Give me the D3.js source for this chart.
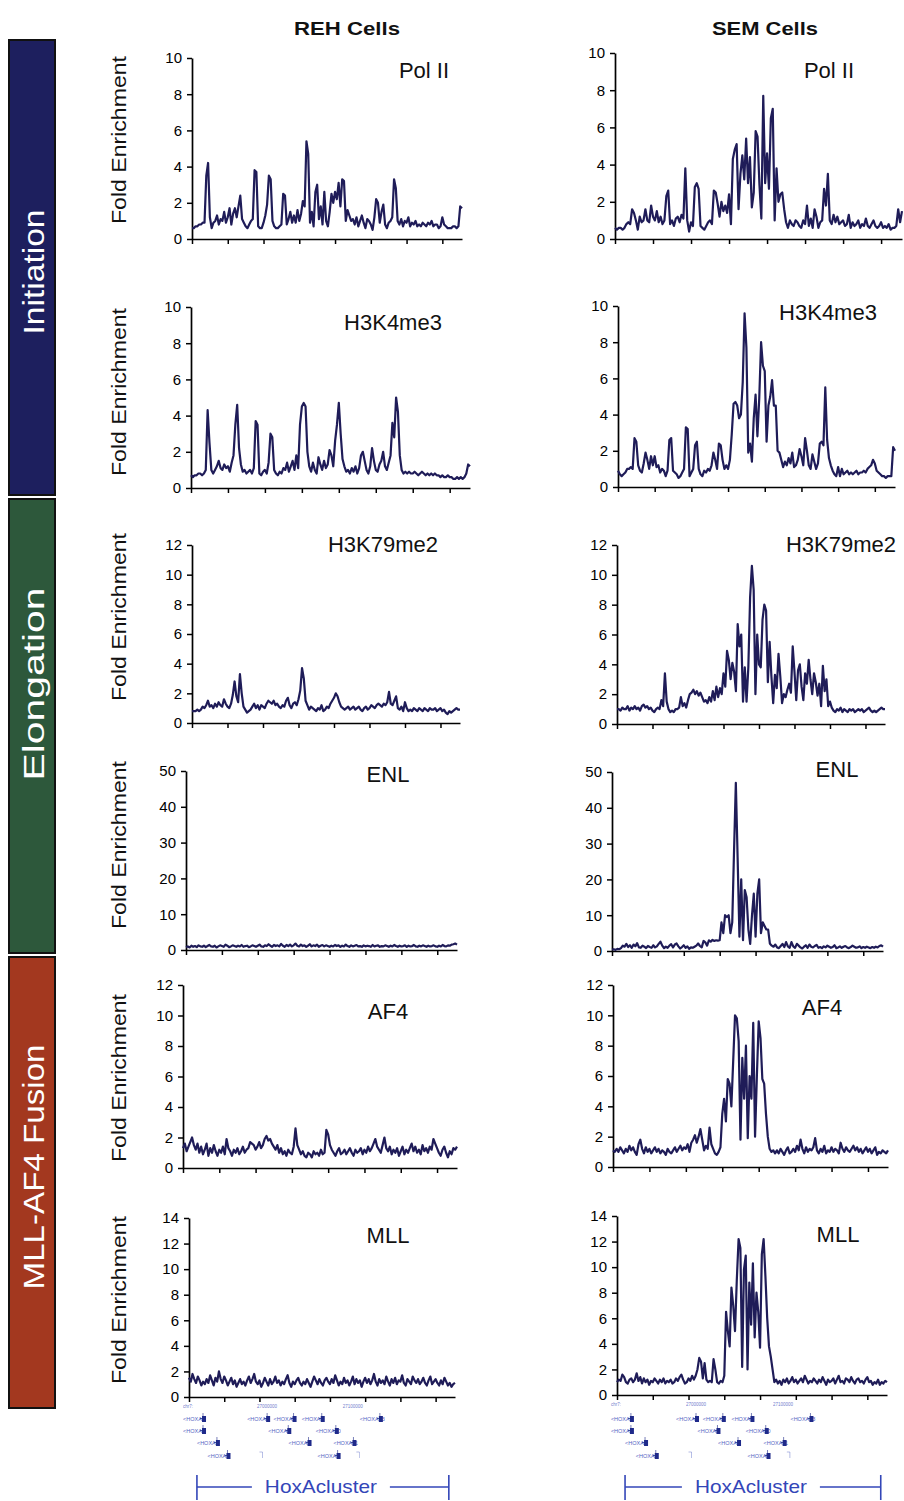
<!DOCTYPE html>
<html>
<head>
<meta charset="utf-8">
<script src="https://cdn.jsdelivr.net/npm/d3@7"></script>
<style>
  body { margin: 0; background: #fff; }
  svg { display: block; }
  text { font-family: "Liberation Sans", Arial, sans-serif; }
</style>
</head>
<body>
<svg id="fig" width="904" height="1501"></svg>
<script>
// ---- chart content ----------------------------------------------------
const cellLines = ["REH Cells", "SEM Cells"];
const marks = ["Pol II", "H3K4me3", "H3K79me2", "ENL", "AF4", "MLL"];
const yMax = [10, 10, 12, 50, 12, 14];
const yStep = [2, 2, 2, 10, 2, 2];
const groups = ["Initiation", "Elongation", "MLL-AF4 Fusion"];
const probeTicks = [0, 20, 40, 60, 80, 100, 120, 140];

// fold enrichment per probe across the HoxA locus (152 probes)
const rehPolII = [
  0.6,0.6,0.7,0.7,0.8,0.8,0.9,0.9,3.5,4.2, 1.2,0.6,0.9,1.0,1.3,0.8,1.1,1.0,1.5,0.9,
  1.2,1.7,0.8,1.4,1.7,1.2,1.8,2.4,1.1,0.9, 0.7,0.6,0.8,1.0,1.1,3.8,3.7,0.7,0.6,0.6,
  0.9,1.3,1.9,3.5,3.3,1.0,0.7,0.6,0.6,0.7, 0.8,2.5,2.4,0.8,1.1,1.5,0.9,1.3,0.9,1.6,
  1.0,1.4,2.1,1.8,5.4,4.7,0.9,1.5,0.7,2.6, 3.0,1.1,1.8,0.8,2.6,1.0,0.7,1.5,2.5,2.0,
  2.6,2.2,3.1,1.8,3.3,3.2,1.0,1.6,1.3,1.0, 1.1,0.8,1.2,0.7,1.0,1.3,0.9,0.6,1.1,1.0,
  0.8,0.5,1.2,2.2,2.0,0.9,1.5,1.9,0.8,0.6, 0.9,1.0,1.2,3.3,2.8,1.0,0.8,1.1,0.7,1.0,
  0.9,1.2,0.7,0.9,0.8,1.0,0.7,0.8,0.7,0.9, 0.8,0.7,0.9,0.8,1.0,0.7,0.8,0.8,0.6,0.7,
  1.2,0.8,0.7,0.6,0.6,0.6,0.7,0.7,0.6,0.7, 1.8,1.7
];
const semPolII = [
  0.6,0.5,0.6,0.6,0.5,0.6,0.8,0.9,0.8,1.6, 1.4,1.0,0.5,1.2,0.9,1.0,1.6,1.0,0.9,1.8,
  1.2,1.0,1.5,0.9,1.2,0.8,1.0,2.3,2.6,0.8, 1.0,0.7,1.1,1.2,0.9,1.3,1.1,3.8,1.0,0.4,
  0.9,0.7,2.8,3.0,2.7,0.7,0.6,0.5,0.7,0.9, 1.0,0.8,2.6,2.5,1.9,1.2,2.0,1.5,1.8,1.4,
  2.4,0.8,4.3,4.8,5.1,1.6,3.5,4.5,3.2,5.4, 3.0,4.4,1.7,2.5,5.8,5.5,2.9,1.1,7.7,3.0,
  4.6,2.7,6.5,7.0,1.0,3.8,2.0,2.4,2.5,1.6, 0.9,0.6,1.0,0.8,0.7,1.0,0.9,0.7,0.6,1.0,
  0.8,1.8,0.7,1.1,0.6,1.6,1.2,0.6,0.9,1.0, 2.7,1.8,3.5,1.0,0.8,1.3,0.9,1.2,0.8,0.9,
  1.0,0.7,0.8,1.3,0.6,0.9,0.7,0.8,1.0,0.6, 0.8,0.7,1.1,0.7,0.6,0.8,1.0,0.7,0.6,0.7,
  0.9,0.6,0.7,0.6,0.8,0.5,0.6,0.6,0.7,1.6, 0.9,1.5
];
const rehH3K4me3 = [
  0.7,0.6,0.7,0.7,0.8,0.8,0.7,0.8,1.0,4.3, 2.5,1.0,0.8,1.0,1.2,1.5,1.1,1.0,1.3,1.1,
  1.2,0.9,1.4,1.8,3.5,4.6,2.2,1.3,0.9,1.0, 0.8,0.9,1.0,0.8,1.1,3.7,3.5,0.8,0.7,0.9,
  1.0,0.8,1.4,3.0,2.8,1.0,0.8,0.7,0.9,0.8, 1.1,1.0,1.4,0.9,1.2,1.5,1.0,1.8,1.1,3.5,
  4.5,4.7,4.5,2.0,1.2,0.9,1.4,1.0,0.8,1.7, 1.3,1.0,1.5,1.1,1.3,2.1,1.8,1.2,2.6,3.5,
  4.7,3.0,1.6,1.2,0.9,1.0,0.8,1.1,0.9,1.2, 0.8,1.1,1.8,2.0,1.5,1.0,0.8,1.2,2.2,1.5,
  1.0,0.9,1.3,1.5,2.0,1.2,1.0,1.4,1.8,3.6, 2.8,5.0,4.2,1.8,1.0,0.8,0.9,0.8,0.9,0.8,
  0.8,0.9,0.8,0.7,0.8,0.9,0.8,0.7,0.8,0.7, 0.8,0.7,0.8,0.7,0.7,0.6,0.7,0.6,0.6,0.7,
  0.6,0.6,0.5,0.5,0.6,0.5,0.6,0.5,0.6,0.8, 1.3,1.2
];
const semH3K4me3 = [
  0.9,0.7,0.6,0.7,0.8,1.0,1.0,1.1,1.0,2.7, 2.5,1.2,0.9,0.8,1.3,1.9,1.5,1.0,1.7,1.2,
  1.7,1.1,1.2,0.8,1.0,0.9,0.6,0.9,2.6,2.7, 0.9,0.8,0.7,0.5,0.6,0.8,1.0,3.3,3.2,0.6,
  0.8,1.0,2.3,2.5,1.0,0.7,0.6,0.9,0.8,1.0, 0.9,1.2,1.9,1.5,1.0,2.4,2.3,1.5,1.0,1.2,
  1.0,1.5,2.9,4.6,4.7,4.5,3.8,4.0,5.8,9.6, 7.7,1.9,2.4,1.4,3.8,5.1,2.8,4.9,8.0,6.7,
  6.4,2.5,4.5,5.0,5.9,4.5,4.5,2.0,1.9,1.5, 1.1,1.4,1.2,1.6,1.3,1.9,1.1,1.2,1.5,2.1,
  1.7,1.2,2.7,2.0,1.2,1.0,1.8,1.4,1.0,1.3, 2.4,2.5,2.3,5.5,2.6,1.6,1.2,0.9,0.7,0.6,
  1.1,0.6,1.0,0.7,0.8,0.9,0.7,0.8,0.7,0.8, 0.9,0.7,0.8,0.8,0.9,0.8,1.0,1.1,1.2,1.5,
  1.3,0.9,0.8,0.7,0.6,0.6,0.5,0.6,0.6,0.6, 2.2,2.0
];
const rehH3K79me2 = [
  0.8,0.8,0.8,0.9,0.8,0.9,1.1,1.0,1.2,1.5, 1.1,1.2,1.0,1.3,1.1,1.4,1.2,1.1,1.6,1.3,
  1.1,1.0,1.3,1.9,2.8,1.8,1.4,3.3,2.0,1.1, 0.9,0.7,0.8,0.9,1.1,1.3,1.0,1.2,0.9,1.2,
  1.1,1.0,1.3,1.5,1.4,1.3,1.5,1.2,1.3,1.1, 1.0,1.2,1.1,1.5,1.7,1.2,1.0,1.3,1.4,1.2,
  1.6,2.2,3.7,3.0,1.5,1.2,0.9,1.1,1.0,0.9, 0.8,1.0,0.9,1.2,0.8,0.9,1.1,1.0,1.3,1.5,
  1.7,2.0,1.8,1.4,1.1,1.0,0.9,1.0,1.1,0.9, 1.0,1.1,0.9,1.0,1.1,0.9,0.8,1.0,1.1,0.9,
  1.0,1.2,1.1,1.0,1.2,1.3,1.2,1.1,1.3,1.2, 1.4,2.1,1.3,1.2,1.5,1.8,1.0,0.9,1.1,0.8,
  1.4,1.0,0.8,0.9,0.8,1.0,0.9,0.8,1.0,0.9, 0.8,1.0,0.9,0.8,1.0,0.9,0.9,1.0,0.8,0.9,
  1.0,0.8,0.9,0.7,0.6,0.8,0.7,0.8,0.9,1.0, 0.9,0.9
];
const semH3K79me2 = [
  1.0,1.0,0.9,1.1,1.0,1.0,1.2,0.9,1.1,1.0, 1.2,1.0,1.1,0.9,1.2,1.3,1.1,1.2,1.0,1.1,
  0.9,0.8,1.0,1.1,1.0,1.6,1.2,3.4,1.5,1.0, 0.8,0.9,0.8,1.0,1.0,1.1,1.8,1.2,1.4,1.1,
  1.6,2.0,2.1,2.3,2.0,2.2,1.9,2.1,1.8,1.5, 1.6,1.4,1.8,1.5,2.2,1.6,2.5,1.8,2.4,2.0,
  3.4,2.5,4.9,4.3,3.0,4.1,3.5,2.2,6.7,5.2, 6.0,1.5,3.8,1.5,3.8,8.5,10.6,9.0,2.0,6.0,
  4.0,3.8,7.0,8.0,7.6,2.8,5.5,3.2,1.4,3.3, 2.4,4.7,3.2,1.4,2.0,1.8,2.3,2.7,2.1,5.2,
  3.5,1.6,3.6,4.0,2.5,1.6,3.4,2.7,4.3,3.0, 2.0,3.4,2.8,1.9,2.7,1.2,3.9,2.2,3.0,1.2,
  1.5,1.1,0.9,0.8,1.0,0.9,1.1,0.8,1.0,0.9, 0.8,1.0,0.9,1.0,0.8,0.9,1.0,0.9,1.0,0.8,
  0.9,1.0,1.1,0.9,0.8,0.9,0.8,0.9,1.0,1.1, 1.0,1.0
];
const rehENL = [
  0.8,1.0,0.7,1.2,0.9,1.1,0.8,1.3,1.0,0.9, 1.2,0.8,1.1,1.4,1.0,0.9,1.2,0.7,1.0,1.3,
  1.1,0.9,1.5,1.2,0.8,1.0,1.3,1.1,0.9,1.2, 1.0,1.4,0.9,1.1,1.2,0.8,1.0,1.3,1.1,0.9,
  1.2,1.5,1.0,0.9,1.3,1.1,1.6,1.2,0.9,1.4, 1.1,1.3,1.0,1.7,1.2,0.9,1.4,1.1,1.5,1.0,
  1.3,1.8,1.2,1.0,1.5,1.1,1.3,0.9,1.2,1.6, 1.0,1.3,1.1,1.5,0.9,1.2,1.4,1.0,1.3,1.1,
  0.9,1.2,1.0,1.4,1.1,1.3,0.9,1.2,1.0,1.5, 1.1,0.9,1.3,1.0,1.2,1.4,1.0,1.1,0.9,1.3,
  1.0,1.2,1.1,0.9,1.4,1.0,1.2,1.3,0.9,1.1, 1.0,1.3,1.1,0.9,1.2,1.0,1.4,1.1,0.9,1.2,
  1.0,1.1,1.3,0.9,1.2,1.0,1.1,1.4,1.0,0.9, 1.2,1.0,1.3,1.1,0.9,1.2,1.0,1.1,1.3,1.0,
  0.9,1.2,1.0,1.4,1.1,1.0,1.3,1.2,1.5,1.6, 1.8,1.5
];
const semENL = [
  0.4,0.5,0.3,0.6,0.5,0.8,1.5,1.2,2.0,1.1, 1.6,0.9,1.8,1.3,2.2,1.0,0.9,1.5,1.2,0.8,
  1.4,1.1,0.9,1.6,1.0,1.3,2.0,2.6,1.5,0.8, 1.2,0.9,1.5,1.9,1.0,1.8,2.1,1.3,0.7,1.1,
  1.6,0.9,1.3,0.6,1.0,0.9,1.2,1.5,2.1,1.4, 1.0,2.8,2.4,1.5,3.0,2.6,3.1,2.8,3.0,2.9,
  3.0,8.0,5.0,10.0,9.5,10.0,5.0,8.0,28.0,47.0, 26.0,4.0,20.0,3.0,17.0,15.0,6.0,2.0,10.0,16.0,
  4.0,16.0,20.0,5.0,8.0,7.0,6.0,6.0,2.0,1.5, 1.2,1.8,1.0,0.8,1.4,2.0,1.1,2.5,1.3,0.9,
  2.5,1.3,0.9,2.0,1.5,1.0,0.7,1.2,1.6,0.9, 1.8,1.2,1.0,1.4,1.7,0.9,1.1,0.8,1.3,1.0,
  1.5,1.2,0.9,1.1,1.6,0.8,1.0,1.3,0.9,1.2, 1.4,1.0,0.8,1.1,1.5,1.2,0.9,1.0,1.3,0.8,
  1.1,0.9,1.2,1.0,0.8,1.1,0.9,1.2,1.0,1.4, 1.6,1.2
];
const rehAF4 = [
  1.3,1.6,1.1,1.4,1.7,2.0,1.5,1.2,1.6,1.0, 1.4,0.9,1.2,1.6,0.8,1.3,1.0,1.5,1.1,0.8,
  1.2,1.0,1.4,0.9,1.9,1.3,1.1,0.8,1.2,1.0, 1.3,0.9,1.1,1.4,1.0,1.2,1.3,1.7,1.6,1.5,
  1.2,1.4,1.7,1.3,1.5,1.9,2.1,1.8,1.9,1.6, 1.4,1.2,1.5,1.0,1.3,0.9,1.1,0.8,1.2,1.0,
  0.9,1.4,2.6,1.5,1.2,0.9,1.1,0.8,0.7,1.0, 0.9,0.7,1.1,0.9,1.0,0.8,1.2,0.9,1.0,2.5,
  2.2,1.5,1.2,1.0,0.8,1.1,1.3,0.9,1.0,1.2, 0.9,1.1,1.3,1.0,0.8,1.2,1.0,1.1,1.3,0.9,
  1.2,1.0,1.4,1.1,1.3,1.6,1.9,1.4,1.2,1.0, 1.5,2.0,1.3,1.1,1.4,0.9,1.2,1.0,1.3,0.8,
  1.1,1.4,0.9,1.2,1.0,1.3,1.6,1.1,1.4,1.0, 1.2,0.9,1.5,1.1,1.3,1.0,1.4,1.2,1.9,1.6,
  1.3,1.0,0.8,1.2,1.4,1.0,0.7,1.1,0.9,1.3, 1.2,1.4
];
const semAF4 = [
  1.1,1.0,1.2,1.0,1.3,1.1,0.9,1.2,1.0,1.4, 1.1,1.3,1.0,0.8,1.5,1.8,1.2,0.9,1.3,1.0,
  1.2,0.9,1.1,1.3,1.0,1.2,0.9,1.1,1.0,0.8, 1.2,1.0,0.9,1.1,1.3,1.0,1.2,1.4,1.1,1.3,
  1.2,1.5,1.0,1.6,1.8,2.1,1.6,2.0,2.5,1.8, 1.1,1.4,1.2,2.6,1.5,1.2,0.9,0.8,1.0,1.3,
  3.5,4.5,3.0,5.8,5.5,4.0,7.0,10.0,9.8,8.3, 1.8,7.2,4.5,8.0,1.9,6.0,4.5,9.5,2.0,6.0,
  9.6,8.5,5.8,5.5,3.5,2.0,1.2,1.0,1.1,0.9, 1.1,0.9,1.2,1.0,0.8,1.1,1.3,0.9,1.0,1.2,
  1.0,1.4,1.1,1.8,1.2,0.9,1.3,1.0,1.2,1.1, 1.3,1.9,1.1,0.9,1.2,1.0,1.4,0.9,1.1,1.0,
  1.3,1.0,1.2,1.1,0.9,1.6,1.2,1.0,1.3,1.1, 1.0,1.2,1.4,1.1,1.3,1.0,1.2,0.9,1.1,1.3,
  1.0,1.2,0.9,1.1,1.3,0.8,1.0,0.9,1.1,1.0, 0.9,1.1
];
const rehMLL = [
  1.5,1.2,1.8,1.4,1.1,1.6,1.3,0.9,1.2,1.0, 1.4,1.1,1.7,1.3,0.9,1.5,1.2,2.0,1.4,1.1,
  1.6,1.3,0.9,1.2,1.5,1.0,1.3,0.8,1.1,1.4, 1.0,1.2,0.9,1.3,1.6,1.1,1.4,1.8,1.2,1.0,
  1.3,0.8,1.1,1.5,1.2,0.9,1.4,1.0,1.2,1.6, 1.1,1.3,0.9,1.2,1.0,1.4,1.7,1.1,0.8,1.2,
  1.0,1.3,1.5,1.1,0.9,1.2,1.0,1.4,1.1,0.8, 1.2,1.6,1.3,1.0,1.4,1.1,0.9,1.3,1.5,1.2,
  1.0,1.4,1.1,1.7,1.3,0.9,1.2,1.0,1.5,1.1, 1.3,0.9,1.2,1.6,1.0,1.4,1.1,1.3,0.8,1.2,
  1.5,1.1,1.4,1.0,1.3,1.8,1.2,0.9,1.4,1.1, 1.3,1.0,1.6,1.2,0.9,1.4,1.1,1.5,1.0,1.3,
  1.2,1.7,1.1,0.9,1.4,1.2,1.0,1.6,1.3,1.1, 1.4,1.0,1.2,1.5,1.1,0.9,1.3,1.6,1.0,1.2,
  1.4,1.1,0.9,1.3,1.0,1.5,1.2,0.9,1.1,0.8, 1.0,1.1
];
const semMLL = [
  1.0,1.2,1.1,1.6,1.4,1.0,0.9,1.2,1.3,1.0, 1.2,1.7,1.1,1.4,0.9,1.3,1.0,1.2,0.8,1.1,
  1.0,1.3,1.1,0.9,1.2,1.0,1.3,0.9,1.1,1.0, 1.2,0.9,1.0,1.3,1.1,1.4,1.6,1.2,0.9,1.0,
  1.3,1.1,1.5,1.2,1.5,2.0,2.9,2.6,1.3,2.5, 1.2,1.0,1.1,1.0,2.8,2.0,1.0,0.9,1.1,1.0,
  1.5,6.5,5.0,3.8,8.4,7.0,5.0,9.0,12.2,11.5, 2.2,9.8,10.9,2.0,8.8,5.5,10.3,4.5,8.0,6.5,
  3.7,11.0,12.2,9.3,6.0,3.8,3.0,2.0,1.0,1.2, 0.9,1.1,0.8,1.2,1.0,1.3,0.9,1.1,1.4,1.0,
  1.2,0.9,1.1,1.3,1.0,1.5,1.2,0.9,1.1,1.0, 1.3,1.1,0.9,1.2,1.0,1.4,1.1,0.8,1.2,1.0,
  1.1,1.3,0.9,1.2,1.5,1.0,1.1,0.9,1.3,1.2, 1.0,1.4,1.1,0.9,1.2,1.3,1.0,1.1,0.9,1.2,
  1.4,1.0,1.1,0.8,1.0,0.9,1.2,0.8,1.0,0.9, 1.1,1.0
];

// HoxA gene annotation track (positions in probe units)
const geneNames = [
  ["HOXA1", "HOXA4", "HOXA5", "HOXA6", "HOXA13"],
  ["HOXA1", "HOXA3", "HOXA10"],
  ["HOXA2", "HOXA7", "HOXA11"],
  ["HOXA3", "", "HOXA9", ""]
];
const genePos = [
  [-3.4, 33, 48, 64, 97],
  [-3.4, 45, 72],
  [4.5, 56.5, 82],
  [10.5, 40, 73, 95]
];
const coordLabels = ["chr7:", "27000000", "27100000"];
const coordPos = [-3.4, 38.6, 87.3];
const clusterLabel = "HoxAcluster";

// ---- layout ------------------------------------------------------------
const series = [
  [rehPolII, rehH3K4me3, rehH3K79me2, rehENL, rehAF4, rehMLL],
  [semPolII, semH3K4me3, semH3K79me2, semENL, semAF4, semMLL]
];
const boxes = [
  [
    { x0: 192, x1: 462, yT: 58,   yB: 239,  lx: 424, ly: 78 },
    { x0: 191, x1: 470, yT: 307,  yB: 488,  lx: 393, ly: 330 },
    { x0: 192, x1: 460, yT: 545,  yB: 723,  lx: 383, ly: 552 },
    { x0: 186, x1: 457, yT: 771,  yB: 950,  lx: 388, ly: 782 },
    { x0: 183, x1: 457, yT: 985,  yB: 1168, lx: 388, ly: 1019 },
    { x0: 189, x1: 455, yT: 1218, yB: 1397, lx: 388, ly: 1243 }
  ],
  [
    { x0: 615, x1: 902, yT: 53,   yB: 239,  lx: 829, ly: 78 },
    { x0: 618, x1: 895, yT: 306,  yB: 487,  lx: 828, ly: 320 },
    { x0: 617, x1: 885, yT: 545,  yB: 724,  lx: 841, ly: 552 },
    { x0: 612, x1: 883, yT: 772,  yB: 951,  lx: 837, ly: 777 },
    { x0: 613, x1: 888, yT: 985,  yB: 1167, lx: 822, ly: 1015 },
    { x0: 617, x1: 887, yT: 1216, yB: 1395, lx: 838, ly: 1242 }
  ]
];
const yLabelPos = [140, 392, 617, 845, 1078, 1300];
const titleX = [347, 765];
const bandBoxes = [
  { y: 40,  h: 455, fill: "#1d1f5e", ty: 272 },
  { y: 499, h: 454, fill: "#2d583b", ty: 684 },
  { y: 957, h: 451, fill: "#a3381f", ty: 1167 }
];
const bandTextLen = [125, 193, 245];
const lineColor = "#1f1c58";
const trackColor = "#3346b8";

const svg = d3.select("#fig");

// group bands on the left
bandBoxes.forEach((b, i) => {
  svg.append("rect")
    .attr("x", 9).attr("y", b.y).attr("width", 46).attr("height", b.h)
    .attr("fill", b.fill).attr("stroke", "#111").attr("stroke-width", 2);
  svg.append("text")
    .attr("transform", `translate(34,${b.ty}) rotate(-90)`)
    .attr("text-anchor", "middle").attr("dominant-baseline", "central")
    .attr("fill", "#fff").attr("font-size", 29)
    .attr("textLength", bandTextLen[i]).attr("lengthAdjust", "spacingAndGlyphs")
    .text(groups[i]);
});

// column titles
cellLines.forEach((t, c) => {
  svg.append("text")
    .attr("x", titleX[c]).attr("y", 35)
    .attr("text-anchor", "middle").attr("font-size", 18).attr("font-weight", "bold")
    .attr("textLength", 106).attr("lengthAdjust", "spacingAndGlyphs")
    .attr("fill", "#111")
    .text(t);
});

// y-axis titles (left column only)
yLabelPos.forEach(cy => {
  svg.append("text")
    .attr("transform", `translate(118,${cy}) rotate(-90)`)
    .attr("text-anchor", "middle").attr("dominant-baseline", "central")
    .attr("font-size", 21).attr("fill", "#111")
    .attr("textLength", 168).attr("lengthAdjust", "spacingAndGlyphs")
    .text("Fold Enrichment");
});

const scales = [];
series.forEach((col, c) => {
  scales.push([]);
  col.forEach((vals, r) => {
    const b = boxes[c][r];
    const x = d3.scaleLinear().domain([0, vals.length - 1]).range([b.x0, b.x1]);
    const y = d3.scaleLinear().domain([0, yMax[r]]).range([b.yB, b.yT]);
    scales[c].push(x);
    const g = svg.append("g");

    const yTicks = d3.range(0, yMax[r] + 0.001, yStep[r]);
    const ya = g.append("g")
      .attr("transform", `translate(${b.x0},0)`)
      .call(d3.axisLeft(y).tickValues(yTicks).tickSize(5).tickSizeOuter(0).tickPadding(5));
    ya.select(".domain").attr("stroke", "#000").attr("stroke-width", 1.7);
    ya.selectAll(".tick line").attr("stroke", "#000").attr("stroke-width", 1.5);
    ya.selectAll(".tick text")
      .attr("font-family", "Liberation Sans, Arial, sans-serif")
      .attr("font-size", 15).attr("fill", "#000");

    const xa = g.append("g")
      .attr("transform", `translate(0,${b.yB})`)
      .call(d3.axisBottom(x).tickValues(probeTicks).tickSize(5).tickSizeOuter(0).tickFormat(""));
    xa.select(".domain").attr("stroke", "#000").attr("stroke-width", 1.7);
    xa.selectAll(".tick line").attr("stroke", "#000").attr("stroke-width", 1.5);

    g.append("path")
      .datum(vals)
      .attr("fill", "none")
      .attr("stroke", lineColor)
      .attr("stroke-width", 2.2)
      .attr("stroke-linejoin", "round")
      .attr("d", d3.line().x((d, i) => x(i)).y(d => y(d)));

    g.append("text")
      .attr("x", b.lx).attr("y", b.ly)
      .attr("text-anchor", "middle").attr("font-size", 22).attr("fill", "#111")
      .text(marks[r]);
  });
});

// gene annotation track beneath each bottom panel
[0, 1].forEach(c => {
  const x = scales[c][5];
  const b = boxes[c][5];
  const t = svg.append("g");
  coordLabels.forEach((lab, i) => {
    t.append("text")
      .attr("x", x(coordPos[i])).attr("y", b.yB + 11)
      .attr("font-size", 4.5).attr("fill", trackColor).attr("opacity", 0.7)
      .text(lab);
  });
  const rowY = [1421, 1433, 1445, 1458];
  geneNames.forEach((row, ri) => {
    row.forEach((name, gi) => {
      const gx = x(genePos[ri][gi]);
      if (name) {
        t.append("text")
          .attr("x", gx).attr("y", rowY[ri])
          .attr("font-size", 5.5).attr("fill", trackColor).attr("opacity", 0.85)
          .text("<" + name);
        t.append("rect")
          .attr("x", gx + 19).attr("y", rowY[ri] - 5)
          .attr("width", 4).attr("height", 6).attr("fill", "#1f2a8a");
        t.append("line")
          .attr("x1", gx + 17).attr("x2", gx + 22).attr("y1", rowY[ri] - 2.5).attr("y2", rowY[ri] - 2.5)
          .attr("stroke", "#1f2a8a").attr("stroke-width", 0.8);
        t.append("line")
          .attr("x1", gx + 20).attr("x2", gx + 20).attr("y1", rowY[ri] - 8).attr("y2", rowY[ri] - 5)
          .attr("stroke", "#1f2a8a").attr("stroke-width", 0.6);
      } else {
        t.append("line")
          .attr("x1", gx).attr("x2", gx + 3).attr("y1", rowY[ri] - 6).attr("y2", rowY[ri] - 6)
          .attr("stroke", trackColor).attr("stroke-width", 0.6).attr("opacity", 0.6);
        t.append("line")
          .attr("x1", gx + 3).attr("x2", gx + 3).attr("y1", rowY[ri] - 6).attr("y2", rowY[ri])
          .attr("stroke", trackColor).attr("stroke-width", 0.6).attr("opacity", 0.6);
      }
    });
  });

  // HoxA cluster bracket
  const bx0 = x(4.5), bx1 = x(147.5), by = 1487;
  const mid = (bx0 + bx1) / 2;
  const br = svg.append("g").attr("stroke", trackColor).attr("stroke-width", 1.6);
  br.append("line").attr("x1", bx0).attr("x2", mid - 71).attr("y1", by).attr("y2", by);
  br.append("line").attr("x1", mid + 67).attr("x2", bx1).attr("y1", by).attr("y2", by);
  br.append("line").attr("x1", bx0).attr("x2", bx0).attr("y1", by - 12).attr("y2", by + 13);
  br.append("line").attr("x1", bx1).attr("x2", bx1).attr("y1", by - 12).attr("y2", by + 13);
  svg.append("text")
    .attr("x", mid - 2).attr("y", by + 6)
    .attr("text-anchor", "middle").attr("font-size", 19).attr("fill", trackColor)
    .attr("textLength", 112).attr("lengthAdjust", "spacingAndGlyphs")
    .text(clusterLabel);
});
</script>
</body>
</html>
